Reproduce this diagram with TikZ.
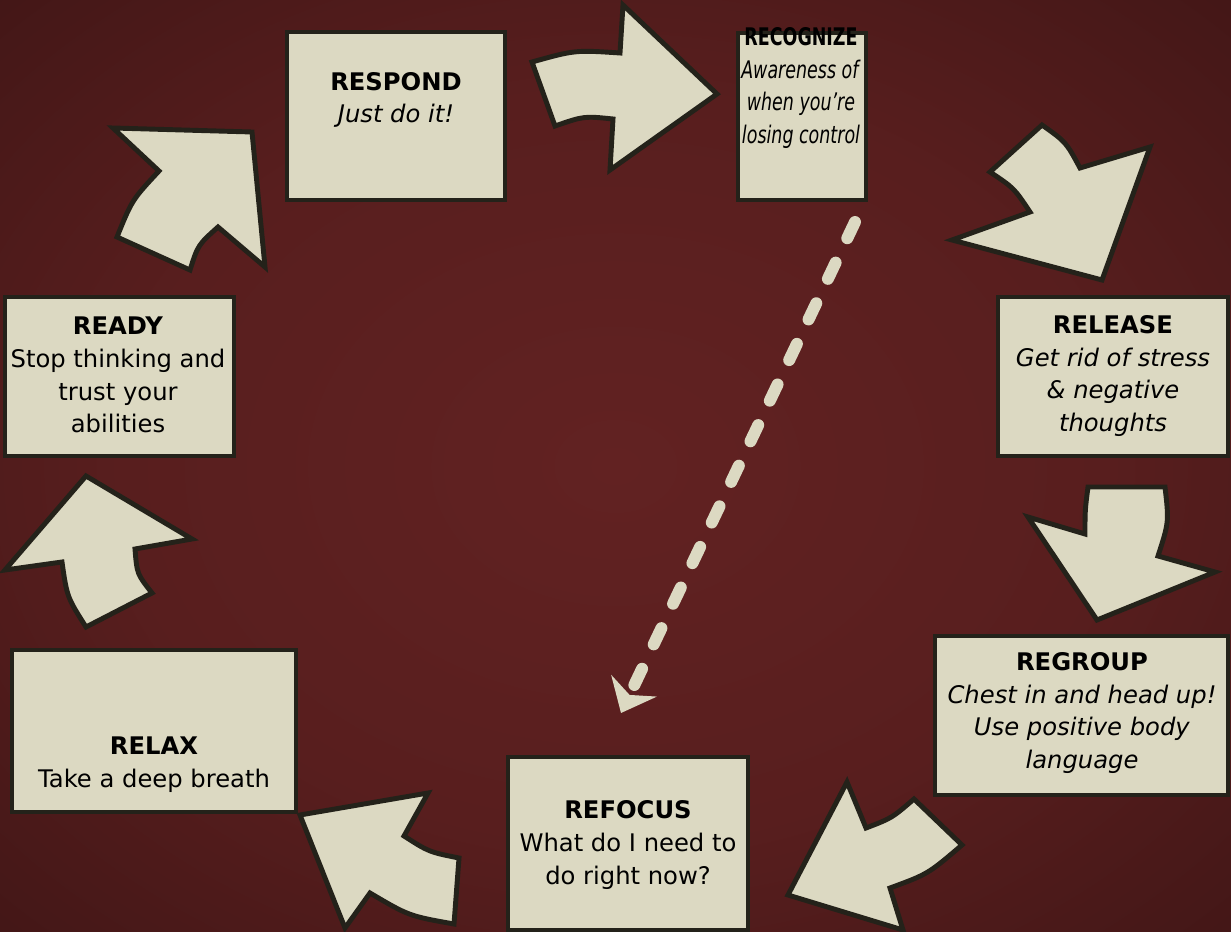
\documentclass[tikz,border=0pt]{standalone}
\usepackage{fontspec}
\setmainfont{DejaVu Sans}
\newfontfamily\tightfont[FakeStretch=0.72]{DejaVu Sans}
\usetikzlibrary{arrows.meta,positioning,calc}

\definecolor{paper}{RGB}{220,217,194}
\definecolor{edge}{RGB}{36,34,26}
\definecolor{bgA}{RGB}{98,34,34}
\definecolor{bgB}{RGB}{88,30,30}
\definecolor{bgC}{RGB}{68,23,23}
\definecolor{bgD}{RGB}{40,14,14}
\definecolor{bgE}{RGB}{12,4,4}
\pgfdeclareradialshading{glow}{\pgfpoint{0bp}{0bp}}{color(0bp)=(bgA); color(20bp)=(bgB); color(35bp)=(bgC); color(50bp)=(bgD); color(62bp)=(bgE); color(72bp)=(black)}

\begin{document}
\begin{tikzpicture}[
  x=0.02cm, y=-0.02cm,
  box/.style={draw=edge, fill=paper, line width=2.8pt, inner sep=0pt},
  txt/.style={align=center, text=black, font=\fontsize{13.8}{18.7}\selectfont},
  ring/.style={draw=edge, fill=paper, line width=2.8pt, line join=miter},
  hint/.style={draw=paper, line width=6.8pt, line cap=round, dash pattern=on 0.36cm off 0.54cm,
    -{Stealth[length=0.6cm, width=1.0cm, inset=0.2cm]}}
]

% background
\useasboundingbox (0,0) rectangle (1231,932);
\shade[shading=glow] (0,0) rectangle (1231,932);

% boxes
\node[box, minimum width=4.36cm, minimum height=3.36cm] (respond) at (396,116) {};
\node[box, minimum width=2.56cm, minimum height=3.34cm] (recognize) at (802,116.5) {};
\node[box, minimum width=4.58cm, minimum height=3.18cm] (ready) at (119.5,376.5) {};
\node[box, minimum width=4.6cm, minimum height=3.18cm] (release) at (1113,376.5) {};
\node[box, minimum width=5.86cm, minimum height=3.18cm] (regroup) at (1081.5,715.5) {};
\node[box, minimum width=5.68cm, minimum height=3.24cm] (relax) at (154,731) {};
\node[box, minimum width=4.8cm, minimum height=3.46cm] (refocus) at (628,843.5) {};

% texts
\node[txt] (respond-t) at (396,100) {\textbf{RESPOND}\\\textit{Just do it!}};
\node[txt, font=\tightfont\fontsize{13.8}{18.7}\selectfont] (recognize-t) at (801,88)
  {\textbf{RECOGNIZE}\\\textit{Awareness of}\\\textit{when you’re}\\\textit{losing control}};
\node[txt] (ready-t) at (118,375) {\textbf{READY}\\Stop thinking and\\trust your\\abilities};
\node[txt] (release-t) at (1113,376) {\textbf{RELEASE}\\\textit{Get rid of stress}\\\textit{\& negative}\\\textit{thoughts}};
\node[txt] (regroup-t) at (1082,713) {\textbf{REGROUP}\\\textit{Chest in and head up!}\\\textit{Use positive body}\\\textit{language}};
\node[txt] (relax-t) at (154,765) {\textbf{RELAX}\\Take a deep breath};
\node[txt] (refocus-t) at (628,845) {\textbf{REFOCUS}\\What do I need to\\do right now?};

% cycle arrows
\draw[ring] (532,62) -- (555,126) .. controls (584,116) .. (613,119) -- (610,170) -- (717,94)
  -- (623,5) -- (620,53) .. controls (575,50) .. cycle;
\draw[ring] (1042,125) .. controls (1066,142) .. (1080,168) -- (1150,147) -- (1102,280)
  -- (952,240) -- (1030,212) .. controls (1014,188) .. (990,172) -- cycle;
\draw[ring] (1088,487) -- (1165,487) .. controls (1169,522) .. (1158,556) -- (1215,572)
  -- (1097,620) -- (1028,517) -- (1085,534) .. controls (1085,510) .. cycle;
\draw[ring] (847,782) -- (866,828) .. controls (892,818) .. (914,799) -- (962,845)
  .. controls (928,874) .. (890,888) -- (903,930) -- (788,895) -- cycle;
\draw[ring] (300,815) -- (428,793) -- (404,836) .. controls (429,852) .. (459,858) -- (454,924)
  .. controls (409,916) .. (370,893) -- (345,928) -- cycle;
\draw[ring] (86,476) -- (192,539) -- (135,549) .. controls (137,574) .. (152,593) -- (86,627)
  .. controls (67,597) .. (62,562) -- (5,570) -- cycle;
\draw[ring] (113,128) -- (252,132) -- (265,267) -- (218,227) .. controls (198,245) .. (190,270)
  -- (117,237) .. controls (132,200) .. (159,171) -- cycle;

% shortcut back to refocus
\coordinate (hint-a) at (855,222);
\coordinate (hint-b) at (621,713);
\draw[hint] (hint-a) -- (hint-b);

\end{tikzpicture}
\end{document}
